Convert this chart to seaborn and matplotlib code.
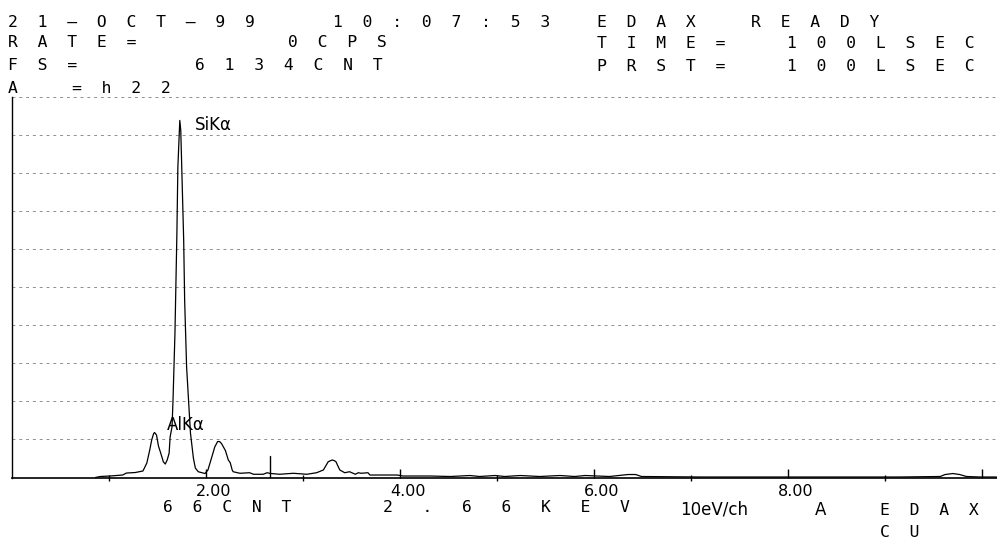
import matplotlib
matplotlib.use("Agg")
import matplotlib.pyplot as plt
import matplotlib.transforms as mtransforms
import pandas as pd
import seaborn as sns

# EDS spectrum trace: energy (keV) and counts per channel
energy_kev = [
    0.86, 0.91, 1.01, 1.14, 1.18, 1.27, 1.35, 1.39, 1.42, 1.44, 1.46, 1.47,
    1.49, 1.51, 1.53, 1.56, 1.58, 1.60, 1.62, 1.63, 1.65, 1.66, 1.68, 1.70,
    1.71, 1.73, 1.74, 1.75, 1.77, 1.78, 1.80, 1.82, 1.84, 1.87, 1.89, 1.92,
    1.99, 2.02, 2.06, 2.09, 2.12, 2.14, 2.16, 2.18, 2.20, 2.23, 2.25, 2.27,
    2.28, 2.35, 2.45, 2.49, 2.59, 2.63, 2.66, 2.76, 2.90, 3.04, 3.14, 3.21,
    3.24, 3.26, 3.30, 3.32, 3.34, 3.36, 3.38, 3.43, 3.48, 3.54, 3.57, 3.60,
    3.67, 3.69, 3.97, 4.03, 4.31, 4.52, 4.72, 4.82, 4.98, 5.08, 5.24, 5.44,
    5.65, 5.80, 5.91, 6.16, 6.35, 6.43, 6.49, 7.09, 7.71, 8.33, 9.15, 9.57,
    9.62, 9.70, 9.77, 9.84, 9.98, 10.15,
]
counts = [
    0, 16, 24, 40, 72, 80, 105, 233, 443, 604, 708, 725,
    684, 507, 410, 254, 217, 282, 394, 652, 818, 1248, 2326, 3936,
    5004, 5756, 5595, 5004, 3824, 2858, 1784, 1248, 716, 314, 153, 93,
    64, 121, 330, 491, 580, 580, 547, 491, 435, 282, 238, 121,
    93, 68, 77, 52, 52, 77, 66, 52, 68, 52, 77, 121,
    201, 254, 282, 274, 254, 185, 121, 77, 93, 52, 77, 68,
    77, 40, 40, 24, 24, 16, 32, 16, 32, 16, 32, 16,
    32, 16, 32, 16, 48, 48, 16, 8, 8, 8, 8, 16,
    48, 64, 48, 16, 8, 8,
]

full_scale = 6134
cursor_kev = 2.66
cursor_cnt = 66
major_ticks = [2, 4, 6, 8, 10]
major_labels = ["2.00", "4.00", "6.00", "8.00", ""]
minor_ticks = [1, 3, 5, 7, 9]
peak_names = ["SiKα", "AlKα"]
peak_text_kev = [1.89, 1.60]
peak_text_cnt = [5595, 765]

W, H = 997, 542

sns.set_theme(style="white")
plt.rcParams["font.family"] = ["DejaVu Sans"]

fig = plt.figure(figsize=(W / 100, H / 100), dpi=100)
fig.patch.set_facecolor("white")
ax = fig.add_axes([12 / W, 64.5 / H, 985 / W, 380.5 / H])
ax.set_facecolor("white")

df = pd.DataFrame({"energy": energy_kev, "counts": counts})
sns.lineplot(data=df, x="energy", y="counts", ax=ax, color="black",
             linewidth=0.9, estimator=None, sort=False, zorder=3)

ax.set_xlim(0, 10.155)
ax.set_ylim(0, full_scale)
ax.set_xlabel("")
ax.set_ylabel("")

# dashed full-scale divisions
for k in range(1, 11):
    ax.axhline(full_scale * k / 10, color="#8f8f8f", lw=0.7,
               ls=(0, (3, 4)), clip_on=False, zorder=1)

for side in ("top", "right"):
    ax.spines[side].set_visible(False)
for side in ("left", "bottom"):
    ax.spines[side].set_color("black")
ax.spines["left"].set_linewidth(1.0)
ax.spines["bottom"].set_linewidth(1.2)

ax.set_yticks([])
ax.set_xticks(major_ticks, labels=major_labels)
ax.set_xticks(minor_ticks, minor=True)
ax.tick_params(axis="x", which="major", bottom=True, direction="in",
               length=6.5, width=1.0, color="black", pad=5, labelsize=11.5,
               labelcolor="black")
ax.tick_params(axis="x", which="minor", bottom=True, direction="inout",
               length=5, width=1.0, color="black")
shift = mtransforms.ScaledTranslation(0.08, 0, fig.dpi_scale_trans)
for lab in ax.get_xticklabels():
    lab.set_transform(lab.get_transform() + shift)

# cursor marker
ax.axvline(cursor_kev, ymin=0, ymax=22 / 380.5, color="black", lw=1.0,
           zorder=4)

# peak identifications
for name, xk, yc in zip(peak_names, peak_text_kev, peak_text_cnt):
    ax.text(xk, yc, name, fontsize=12, color="black", ha="left",
            va="baseline", zorder=5)

mono = "DejaVu Sans Mono"


def spaced(s, gap=2):
    return (" " * gap).join(s)


def put(x_px, base_px, s, gap=2, family=mono, size=11.8):
    fig.text(x_px / W, 1 - base_px / H, spaced(s, gap) if gap else s,
             ha="left", va="baseline", fontsize=size, color="black",
             family=family)


# header block
put(8, 27, "21—OCT—99")
put(333, 27, "10:07:53")
put(597, 27, "EDAX")
put(751, 27, "READY")
put(8, 47, "RATE=")
put(288, 47, "0CPS")
put(597, 48, "TIME=")
put(787, 48, "100LSEC")
put(8, 70, "FS=")
put(195, 70, f"{full_scale}CNT")
put(597, 71, "PRST=")
put(787, 71, "100LSEC")
put(8, 93, "A")
put(72, 93, "=h22")

# footer block
put(163, 512, f"{cursor_cnt}CNT")
put(383, 512, f"{cursor_kev:.2f}KEV", gap=3)
put(680, 515, "10eV/ch", gap=0, family="DejaVu Sans", size=12)
put(815, 515, "A", gap=0, family="DejaVu Sans", size=12)
put(880, 515, "EDAX")
put(880, 537, "CU")

fig.savefig("out.png", dpi=100, facecolor="white")
